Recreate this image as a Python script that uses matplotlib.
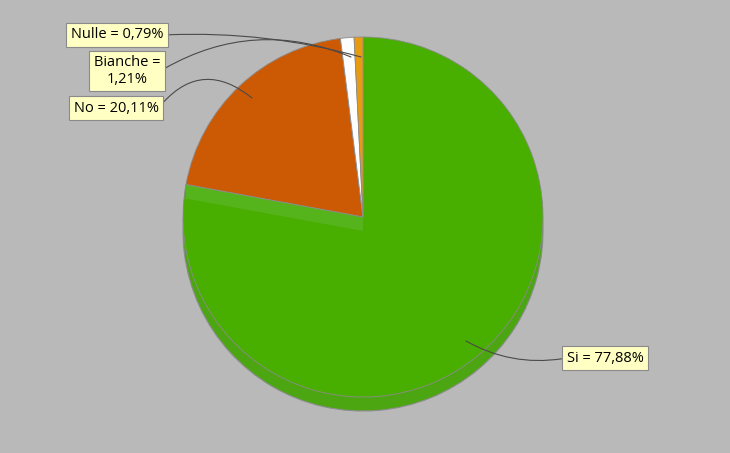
import numpy as np
import matplotlib.pyplot as plt
from matplotlib.patches import Polygon

# dati del referendum
categorie = ["Si", "No", "Bianche", "Nulle"]
percentuali = [77.88, 20.11, 1.21, 0.79]
etichette = ["Si = 77,88%", "No = 20,11%", "Bianche =\n1,21%", "Nulle = 0,79%"]
colori = ["#48ae00", "#cc5a05", "#fdfdfd", "#e89b10"]
colori_lato = ["#4ba612", "#b45010", "#e0e0e0", "#c88a10"]

W, H = 730, 453
sfondo = "#b9b9b9"

fig = plt.figure(figsize=(W / 100, H / 100), dpi=100, facecolor=sfondo)
ax = fig.add_axes([0, 0, 1, 1])
ax.set_facecolor(sfondo)

cx, cy, r = 363, H - 217, 180
spessore = 14

# lato del "3D": pie ripetuta spostata verso il basso
for d in range(spessore, 0, -1):
    ax.pie(percentuali, colors=colori_lato, startangle=90, counterclock=False,
           center=(cx, cy - d), radius=r,
           wedgeprops=dict(linewidth=0))
ax.pie(percentuali, colors=colori_lato, startangle=90, counterclock=False,
       center=(cx, cy - spessore), radius=r,
       wedgeprops=dict(linewidth=0.8, edgecolor="#8c8c8c", fill=False))

# faccia superiore
spicchi, _ = ax.pie(percentuali, colors=colori, startangle=90, counterclock=False,
                    center=(cx, cy), radius=r,
                    wedgeprops=dict(linewidth=0.6, edgecolor="#8c8c8c"))

# parete del taglio tra Si e No
ang = np.deg2rad(90 - percentuali[0] / 100 * 360)
ex, ey = cx + r * np.cos(ang), cy + r * np.sin(ang)
band = Polygon([(cx, cy), (ex, ey), (ex, ey - spessore), (cx, cy - spessore)],
               closed=True, fc="#55b41c", ec="none", zorder=3)
ax.add_patch(band)
ax.plot([cx, ex], [cy, ey], color="#8c8c8c", lw=0.6, zorder=4)

box = dict(boxstyle="square,pad=0.3", fc="#ffffc4", ec="#8a8a8a", lw=0.8)
testo = dict(fontsize=10.5, family=["Open Sans", "DejaVu Sans"], color="black",
             ha="center", va="center", multialignment="center", zorder=10)

# posizione etichette (px) e punto di arrivo della linea
pos_testo = [(605, 358), (116, 108), (127, 71), (117, 35)]
pos_punta = [(466, 341), (252, 98), (351, 57), (361, 57)]
curve = [-0.18, -0.5, -0.25, -0.08]
attacco = [(0, 0.5), (1, 0.5), (1, 0.5), (1, 0.5)]

for lab, (tx, ty), (px, py), rad, rp in zip(etichette, pos_testo, pos_punta,
                                            curve, attacco):
    ax.annotate(lab, xy=(px, H - py), xytext=(tx, H - ty), bbox=box,
                arrowprops=dict(arrowstyle="-", color="#4a4a4a", lw=0.8,
                                connectionstyle="arc3,rad=%s" % rad,
                                relpos=rp, shrinkA=0, shrinkB=0),
                **testo)

ax.set_xlim(0, W)
ax.set_ylim(0, H)
ax.set_aspect("equal")
ax.axis("off")

fig.savefig("out.png", dpi=100, facecolor=sfondo)
